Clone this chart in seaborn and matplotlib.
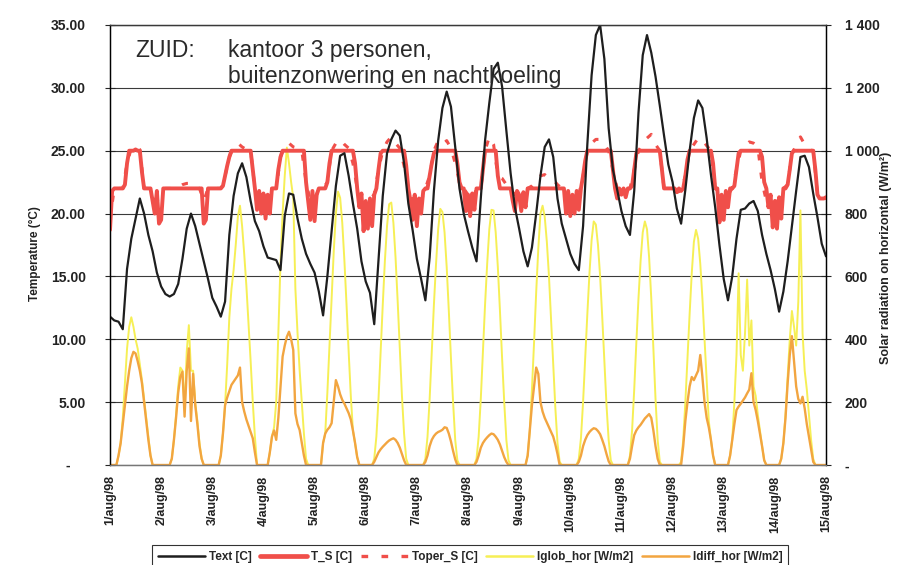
import numpy as np
import matplotlib
matplotlib.use("Agg")
import matplotlib.pyplot as plt
import seaborn as sns
from matplotlib.lines import Line2D

# --- data ---
day_labels = ["1/aug/98", "2/aug/98", "3/aug/98", "4/aug/98", "5/aug/98",
              "6/aug/98", "7/aug/98", "8/aug/98", "9/aug/98", "10/aug/98",
              "11/aug/98", "12/aug/98", "13/aug/98", "14/aug/98", "15/aug/98"]
temp_ticks = [0, 5, 10, 15, 20, 25, 30, 35]
temp_tick_labels = ["-    ", "5.00", "10.00", "15.00", "20.00", "25.00", "30.00", "35.00"]
sun_ticks = [0, 200, 400, 600, 800, 1000, 1200, 1400]
sun_tick_labels = ["-", "200", "400", "600", "800", "1 000", "1 200", "1 400"]

# outdoor temperature, every 2 hours (12 values per day)
text_c = [
    [11.8, 11.5, 11.4, 10.8, 15.6, 18.0, 19.6, 21.2, 20.0, 18.3, 17.0, 15.3],
    [14.2, 13.6, 13.4, 13.6, 14.4, 16.4, 18.8, 20.0, 19.0, 17.6, 16.2, 14.8],
    [13.3, 12.6, 11.8, 13.0, 18.3, 21.4, 23.2, 24.0, 22.9, 21.0, 19.4, 18.6],
    [17.4, 16.5, 16.4, 16.3, 15.5, 19.8, 21.6, 21.5, 19.6, 18.0, 16.8, 16.0],
    [15.3, 13.8, 11.9, 15.0, 18.6, 22.2, 24.6, 24.8, 23.0, 20.8, 18.8, 16.2],
    [14.6, 13.7, 11.2, 16.3, 21.4, 24.8, 25.9, 26.6, 26.2, 24.0, 20.8, 18.7],
    [16.4, 14.8, 13.1, 16.5, 21.8, 25.8, 28.4, 29.7, 28.5, 25.3, 22.0, 20.0],
    [18.6, 17.3, 16.2, 21.2, 25.8, 28.8, 31.5, 32.0, 30.1, 26.6, 23.2, 20.5],
    [18.8, 17.0, 15.8, 17.3, 20.0, 23.0, 25.3, 25.9, 24.5, 21.2, 19.2, 18.0],
    [16.8, 16.0, 15.5, 19.0, 25.5, 31.0, 34.2, 35.0, 32.3, 26.8, 23.5, 21.9],
    [20.2, 19.0, 18.3, 21.8, 28.0, 32.6, 34.2, 32.8, 30.9, 28.6, 26.2, 23.9],
    [22.5, 20.4, 19.2, 21.9, 25.0, 27.6, 29.0, 28.4, 26.0, 23.1, 20.5, 17.5],
    [14.8, 13.1, 15.0, 18.0, 20.3, 20.4, 20.8, 21.0, 20.2, 18.3, 16.8, 15.5],
    [14.0, 12.2, 13.8, 16.2, 19.0, 21.8, 24.5, 24.6, 23.7, 21.6, 19.7, 17.6],
]
text_c_end = 16.6

# operative temperature south office, every 2 hours
toper_s = [
    [19.5, 22.0, 22.0, 22.0, 24.0, 25.2, 25.4, 25.1, 22.0, 22.0, 21.5, 21.0],
    [21.5, 22.0, 22.0, 22.0, 22.1, 22.3, 22.4, 22.4, 22.1, 22.0, 21.0, 22.0],
    [22.0, 22.0, 22.0, 23.0, 24.5, 25.3, 25.6, 25.3, 25.1, 25.0, 22.0, 21.5],
    [21.5, 21.5, 22.0, 22.0, 24.5, 25.4, 25.6, 25.3, 25.2, 25.0, 22.5, 21.0],
    [21.0, 22.0, 22.0, 22.5, 25.0, 25.6, 25.9, 25.5, 25.2, 24.0, 22.0, 21.0],
    [21.0, 21.2, 21.5, 23.5, 25.0, 25.7, 26.1, 25.6, 25.2, 23.8, 22.0, 21.0],
    [20.5, 21.0, 22.0, 23.0, 25.0, 25.8, 25.5, 25.8, 25.2, 24.0, 22.5, 22.0],
    [21.5, 21.0, 22.0, 22.0, 25.0, 26.1, 25.5, 23.0, 22.8, 22.3, 22.0, 21.5],
    [21.5, 21.5, 22.0, 22.2, 22.6, 23.0, 23.1, 22.8, 22.7, 22.3, 22.0, 21.5],
    [21.0, 21.5, 21.5, 23.0, 25.0, 25.6, 25.9, 25.9, 25.5, 25.0, 23.5, 22.0],
    [21.8, 21.9, 22.0, 23.5, 25.0, 25.5, 26.0, 26.3, 25.5, 25.0, 22.0, 22.0],
    [22.0, 21.7, 21.8, 23.0, 25.0, 25.5, 26.0, 25.9, 25.4, 25.0, 22.0, 21.2],
    [21.0, 21.5, 22.0, 23.5, 25.0, 25.4, 25.7, 25.6, 25.3, 22.5, 21.0, 21.0],
    [21.0, 21.0, 22.0, 22.3, 24.8, 25.4, 26.1, 25.5, 25.1, 25.0, 21.5, 21.2],
]
toper_s_end = 21.2

# air temperature south office, hourly (24 values per day)
t_s = [
    [18.7, 21.8, 22.0, 22.0, 22.0, 22.0, 22.0, 22.3, 24.0, 25.0, 25.0, 25.0, 25.1, 25.0, 25.0, 23.3, 22.0, 22.0, 22.0, 22.0, 21.0, 20.0, 21.8, 19.2],
    [19.5, 22.0, 22.0, 22.0, 22.0, 22.0, 22.0, 22.0, 22.0, 22.0, 22.0, 22.0, 22.0, 22.0, 22.0, 22.0, 22.0, 22.0, 22.0, 22.0, 19.2, 19.5, 22.0, 22.0],
    [22.0, 22.0, 22.0, 22.0, 22.0, 22.2, 23.0, 23.8, 24.5, 25.0, 25.0, 25.0, 25.0, 25.0, 25.0, 25.0, 25.0, 25.0, 25.0, 23.5, 22.0, 20.3, 21.8, 20.0],
    [21.6, 19.6, 21.5, 20.0, 22.0, 22.0, 22.0, 23.5, 24.5, 25.0, 25.0, 25.0, 25.0, 25.0, 25.0, 25.0, 25.0, 25.0, 25.0, 25.0, 22.5, 21.0, 19.5, 21.8],
    [19.4, 21.5, 22.0, 22.0, 22.0, 22.0, 22.5, 24.0, 25.0, 25.0, 25.0, 25.0, 25.0, 25.0, 25.0, 25.0, 25.0, 25.0, 25.0, 24.0, 22.0, 20.5, 21.6, 18.6],
    [21.0, 18.8, 21.2, 19.0, 21.5, 22.0, 23.5, 24.8, 25.0, 25.0, 25.0, 25.0, 25.0, 25.0, 25.0, 25.0, 25.0, 25.0, 25.0, 23.8, 22.0, 21.0, 19.5, 21.5],
    [19.0, 21.2, 20.0, 21.8, 22.0, 22.0, 23.0, 24.0, 24.8, 25.0, 25.0, 25.0, 25.0, 25.0, 25.0, 25.0, 25.0, 25.0, 25.0, 24.0, 22.5, 22.0, 22.0, 20.2],
    [21.5, 19.8, 21.6, 20.3, 22.0, 22.0, 22.0, 23.5, 25.0, 25.0, 25.0, 25.0, 25.0, 25.0, 23.0, 22.0, 22.0, 22.0, 22.0, 22.0, 22.0, 21.0, 20.2, 21.8],
    [21.5, 20.2, 21.7, 20.5, 22.0, 22.0, 22.0, 22.0, 22.0, 22.0, 22.0, 22.0, 22.0, 22.0, 22.0, 22.0, 22.0, 22.0, 22.0, 22.0, 22.0, 22.0, 20.0, 21.8],
    [19.8, 21.5, 20.0, 21.8, 20.3, 22.0, 23.0, 24.2, 25.0, 25.0, 25.0, 25.0, 25.0, 25.0, 25.0, 25.0, 25.0, 25.0, 25.0, 25.0, 23.5, 22.0, 21.2, 22.0],
    [21.5, 22.0, 21.3, 22.0, 22.0, 22.2, 23.5, 24.8, 25.0, 25.0, 25.0, 25.0, 25.0, 25.0, 25.0, 25.0, 25.0, 25.0, 25.0, 23.5, 22.0, 22.0, 22.0, 22.0],
    [22.0, 22.0, 21.7, 22.0, 21.8, 22.0, 23.0, 24.3, 25.0, 25.0, 25.0, 25.0, 25.0, 25.0, 25.0, 25.0, 25.0, 25.0, 25.0, 24.0, 22.0, 22.0, 19.3, 21.5],
    [19.5, 21.8, 20.5, 22.0, 22.0, 22.2, 23.5, 24.8, 25.0, 25.0, 25.0, 25.0, 25.0, 25.0, 25.0, 25.0, 25.0, 25.0, 24.5, 22.5, 22.0, 20.5, 21.5, 18.9],
    [21.0, 18.8, 21.3, 19.6, 22.0, 22.0, 22.3, 23.5, 24.8, 25.0, 25.0, 25.0, 25.0, 25.0, 25.0, 25.0, 25.0, 25.0, 25.0, 23.5, 21.5, 21.2, 21.2, 21.2],
]
t_s_end = 21.3

# solar radiation on horizontal, hourly from 03h to 21h (zero at night)
sun_hours = [3, 4, 5, 6, 7, 8, 9, 10, 11, 12, 13, 14, 15, 16, 17, 18, 19, 20, 21]
iglob_hor = [
    [0, 30, 70, 150, 260, 370, 440, 470, 440, 400, 370, 320, 270, 210, 150, 90, 30, 0, 0],
    [0, 0, 20, 80, 160, 250, 310, 300, 180, 360, 445, 300, 300, 200, 140, 70, 20, 0, 0],
    [0, 30, 100, 190, 320, 470, 560, 620, 700, 790, 825, 760, 670, 570, 450, 330, 200, 90, 0],
    [40, 90, 120, 200, 420, 640, 800, 920, 1010, 960, 900, 850, 560, 420, 300, 200, 100, 20, 0],
    [0, 70, 100, 230, 380, 530, 680, 800, 870, 850, 770, 650, 510, 360, 220, 110, 70, 25, 0],
    [0, 20, 90, 210, 360, 510, 650, 760, 830, 835, 770, 660, 520, 370, 220, 100, 20, 0, 0],
    [0, 20, 90, 210, 360, 510, 640, 750, 815, 805, 740, 630, 490, 340, 200, 80, 15, 0, 0],
    [0, 20, 90, 210, 360, 510, 640, 750, 812, 810, 740, 630, 490, 340, 200, 80, 15, 0, 0],
    [0, 30, 110, 240, 390, 550, 690, 800, 825, 790, 710, 600, 460, 320, 180, 70, 10, 0, 0],
    [0, 20, 85, 200, 340, 480, 610, 715, 775, 765, 700, 600, 470, 330, 190, 80, 15, 0, 0],
    [0, 30, 110, 240, 390, 530, 650, 740, 775, 750, 660, 530, 370, 210, 80, 10, 0, 0, 0],
    [0, 10, 80, 200, 340, 480, 610, 710, 748, 720, 640, 530, 400, 270, 140, 80, 30, 0, 0],
    [30, 80, 200, 350, 610, 350, 300, 420, 590, 380, 460, 250, 220, 160, 110, 60, 15, 0, 0],
    [20, 70, 160, 280, 400, 490, 440, 380, 520, 810, 420, 300, 240, 160, 80, 20, 0, 0, 0],
]
idiff_hor = [
    [0, 30, 70, 130, 190, 250, 300, 340, 360, 355, 330, 300, 260, 200, 140, 80, 30, 0, 0],
    [0, 0, 20, 80, 150, 230, 280, 297, 154, 300, 371, 140, 290, 190, 130, 60, 20, 0, 0],
    [0, 30, 100, 190, 215, 235, 255, 265, 275, 285, 310, 200, 170, 145, 125, 105, 85, 40, 0],
    [40, 90, 110, 80, 150, 250, 345, 380, 408, 424, 400, 366, 164, 130, 111, 70, 30, 0, 0],
    [0, 70, 100, 112, 120, 133, 200, 270, 250, 225, 207, 195, 180, 165, 145, 110, 70, 25, 0],
    [0, 10, 25, 40, 50, 58, 65, 72, 78, 82, 85, 80, 70, 55, 35, 15, 0, 0, 0],
    [0, 10, 30, 60, 80, 92, 100, 105, 108, 112, 120, 118, 100, 75, 45, 18, 0, 0, 0],
    [0, 10, 30, 55, 70, 80, 88, 95, 100, 98, 90, 80, 65, 45, 25, 10, 0, 0, 0],
    [0, 30, 110, 190, 250, 310, 290, 200, 170, 150, 135, 120, 105, 90, 65, 35, 0, 0, 0],
    [0, 10, 30, 60, 80, 95, 105, 112, 117, 115, 108, 98, 80, 60, 35, 12, 0, 0, 0],
    [0, 20, 60, 95, 110, 120, 128, 138, 148, 155, 162, 150, 110, 60, 20, 0, 0, 0, 0],
    [0, 0, 60, 140, 200, 250, 280, 270, 285, 300, 350, 280, 200, 150, 120, 80, 30, 0, 0],
    [30, 80, 130, 175, 186, 195, 205, 215, 228, 240, 292, 200, 175, 140, 100, 60, 15, 0, 0],
    [20, 70, 150, 260, 350, 410, 330, 250, 210, 196, 217, 180, 130, 90, 50, 10, 0, 0, 0],
]

# --- put the day blocks on one time axis (hours since 1/aug 00h) ---
hours_2h = np.arange(0, 337, 2)
hours_1h = np.arange(0, 337)
text_series = np.append(np.concatenate(text_c), text_c_end)
toper_series = np.append(np.concatenate(toper_s), toper_s_end)
ts_series = np.append(np.concatenate(t_s), t_s_end)
iglob_series = np.zeros(len(hours_1h))
idiff_series = np.zeros(len(hours_1h))
for d in range(len(iglob_hor)):
    idx = [24 * d + h for h in sun_hours]
    iglob_series[idx] = iglob_hor[d]
    idiff_series[idx] = idiff_hor[d]

# --- styling ---
sns.set_style("white")
plt.rcParams['font.family'] = ['Liberation Sans', 'DejaVu Sans']

c_text = "#1e1e1e"
c_ts = "#f04f4a"
c_glob = "#f6ef55"
c_diff = "#f2a540"
c_grid = "#3a3a3a"

fig = plt.figure(figsize=(9.1, 5.65), dpi=100)
ax = fig.add_axes([110 / 910, 1 - 465 / 565, 716 / 910, 440 / 565])
ax2 = ax.twinx()
# temperatures drawn on top of the radiation curves
ax.set_zorder(ax2.get_zorder() + 1)
ax.patch.set_visible(False)
ax2.patch.set_visible(True)
ax2.patch.set_facecolor("white")

sns.lineplot(x=hours_1h, y=iglob_series, ax=ax2, color=c_glob, linewidth=1.4, estimator=None)
sns.lineplot(x=hours_1h, y=idiff_series, ax=ax2, color=c_diff, linewidth=1.7, estimator=None)

sns.lineplot(x=hours_2h, y=toper_series, ax=ax, color=c_ts, linewidth=2.2,
             linestyle=(0, (2, 4)), estimator=None)
sns.lineplot(x=hours_1h, y=ts_series, ax=ax, color=c_ts, linewidth=2.8, estimator=None)
sns.lineplot(x=hours_2h, y=text_series, ax=ax, color=c_text, linewidth=1.6, estimator=None)

ax.set_xlim(0, 336)
ax.set_ylim(0, 35)
ax2.set_ylim(0, 1400)

# grid lines (5 degC and 200 W/m2 coincide)
ax2.set_xticks(range(0, 337, 24))
ax2.set_yticks(sun_ticks)
ax2.grid(True, color=c_grid, linewidth=0.8)
ax2.set_axisbelow(True)

ax.set_xticks(range(0, 337, 24))
ax.set_xticklabels(day_labels, rotation=90, fontsize=9, fontweight="bold", color="#222")
ax.set_xticks(range(0, 337, 4), minor=True)
ax.tick_params(axis="x", which="major", direction="inout", length=7, width=0.8, pad=4, color="#555")
ax.tick_params(axis="x", which="minor", direction="inout", length=4, width=0.7, color="#555")
ax.set_yticks(temp_ticks)
ax.set_yticklabels(temp_tick_labels, fontsize=10, fontweight="bold", color="#222")
ax.tick_params(axis="y", direction="inout", length=7, width=0.8, pad=14)
ax2.set_yticklabels(sun_tick_labels, fontsize=10, fontweight="bold", color="#222")
ax2.tick_params(axis="y", direction="inout", length=7, width=0.8, pad=10)
ax2.tick_params(axis="x", length=0, labelbottom=False)

ax.set_xlabel("")
ax.set_ylabel("Temperature (°C)", fontsize=8.5, fontweight="bold", color="#222")
ax.yaxis.set_label_coords(-0.096, 0.48)
ax2.set_ylabel("Solar radiation on horizontal (W/m²)", fontsize=9, fontweight="bold", color="#222")
ax2.yaxis.set_label_coords(1.075, 0.47)

for a in (ax, ax2):
    a.spines["left"].set_color("black")
    a.spines["right"].set_color("black")
    a.spines["bottom"].set_color("#777")
    a.spines["top"].set_color(c_grid)
    for s in a.spines.values():
        s.set_linewidth(0.9)

# caption inside the plot
ax.text(0.035, 0.968, "ZUID:", transform=ax.transAxes, fontsize=16.5,
        color="#2a2a2a", va="top", ha="left")
ax.text(0.165, 0.968, "kantoor 3 personen,\nbuitenzonwering en nachtkoeling",
        transform=ax.transAxes, fontsize=16.5, color="#2a2a2a", va="top", ha="left",
        linespacing=1.15)

# legend along the bottom edge (its lower edge falls off the image)
handles = [
    Line2D([], [], color=c_text, linewidth=1.8),
    Line2D([], [], color=c_ts, linewidth=3.4),
    Line2D([], [], color=c_ts, linewidth=2.4, linestyle=(0, (2, 4))),
    Line2D([], [], color=c_glob, linewidth=1.8),
    Line2D([], [], color=c_diff, linewidth=1.8),
]
labels = ["Text [C]", "T_S [C]", "Toper_S [C]", "Iglob_hor [W/m2]", "Idiff_hor [W/m2]"]
leg = fig.legend(handles, labels, loc="upper left", bbox_to_anchor=(152 / 910, 1 - 545 / 565),
                 ncol=5, frameon=True, fancybox=False, edgecolor="black",
                 prop={"size": 8.5, "weight": "bold"}, handlelength=4.0,
                 handletextpad=0.3, columnspacing=0.75, borderpad=0.5, borderaxespad=0)
leg.get_frame().set_linewidth(0.8)

fig.savefig("out.png", dpi=100)
